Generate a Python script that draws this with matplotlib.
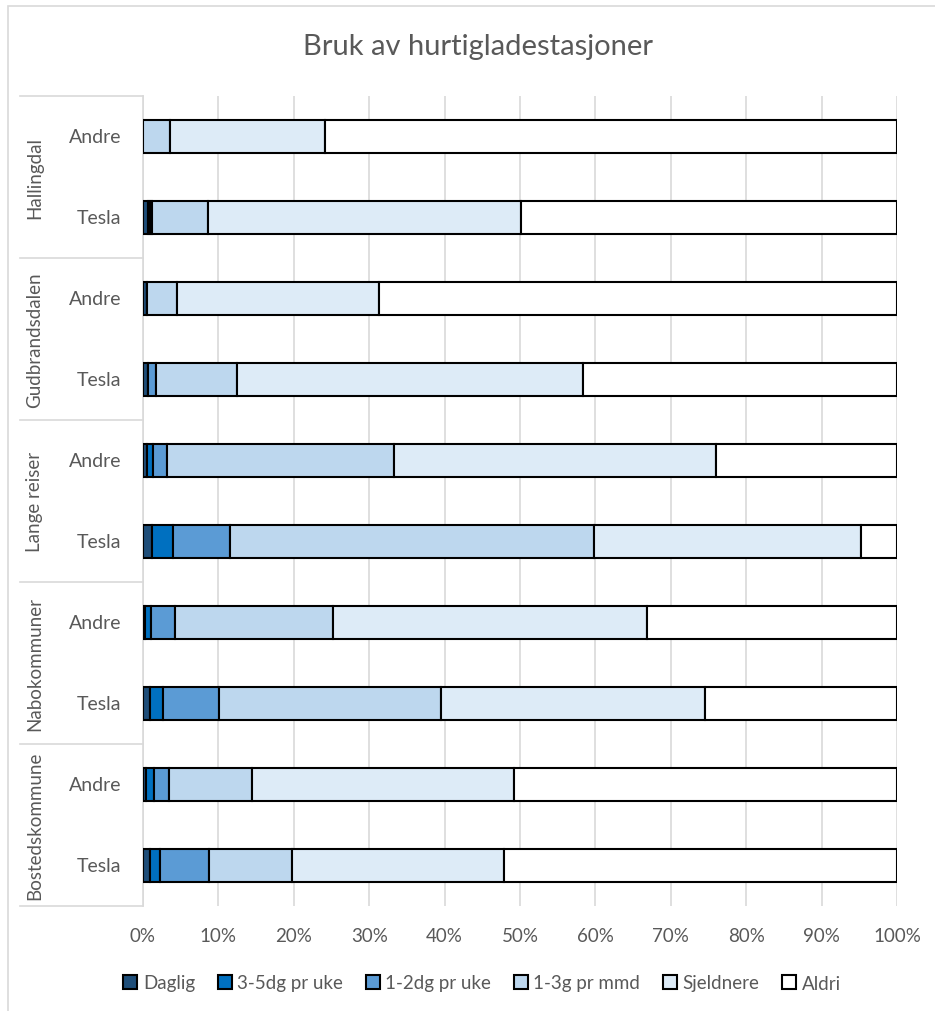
import matplotlib.pyplot as plt
import numpy as np
from matplotlib.patches import Rectangle, Patch
from matplotlib.transforms import blended_transform_factory

plt.rcParams['font.family'] = ['Lato', 'DejaVu Sans']

# Data (percent per bar, top to bottom)
groups = ['Hallingdal', 'Gudbrandsdalen', 'Lange reiser', 'Nabokommuner', 'Bostedskommune']
subcats = ['Andre', 'Tesla']
series = ['Daglig', '3-5dg pr uke', '1-2dg pr uke', '1-3g pr mmd', 'Sjeldnere', 'Aldri']

daglig = [0.0, 0.6, 0.5, 0.7, 0.5, 1.2, 0.3, 0.9, 0.4, 0.9]
dg35 = [0.0, 0.3, 0.0, 0.0, 0.8, 2.8, 0.7, 1.8, 1.1, 1.4]
dg12 = [0.0, 0.3, 0.0, 1.0, 1.9, 7.6, 3.2, 7.4, 1.9, 6.5]
g13_mmd = [3.6, 7.4, 4.0, 10.8, 30.1, 48.2, 21.0, 29.4, 11.1, 11.0]
sjeldnere = [20.5, 41.5, 26.8, 45.9, 42.7, 35.4, 41.6, 35.0, 34.7, 28.1]
aldri = [100 - sum(v) for v in zip(daglig, dg35, dg12, g13_mmd, sjeldnere)]

colors = ['#1F4E79', '#0070C0', '#5B9BD5', '#BDD7EE', '#DDEBF7', '#FFFFFF']
text_col = '#595959'
grid_col = '#D9D9D9'

W, H = 935, 1012
fig = plt.figure(figsize=(W / 100, H / 100), dpi=100)
ax = fig.add_axes([143 / W, (H - 907) / H, 754 / W, 810 / H])

# outer chart border (only top/left visible in the crop)
fig.patches.append(Rectangle((8 / W, -0.1), 1.2, (H - 7) / H + 0.1, transform=fig.transFigure,
                             fill=False, edgecolor=grid_col, linewidth=1.2))

y = np.arange(len(daglig))
left = np.zeros(len(daglig))
for name, vals, c in zip(series, [daglig, dg35, dg12, g13_mmd, sjeldnere, aldri], colors):
    ax.barh(y, vals, left=left, height=0.41, color=c, edgecolor='black', linewidth=1.5,
            label=name, zorder=3)
    left += np.array(vals)

ax.set_xlim(0, 100)
ax.set_ylim(9.5, -0.5)
ax.set_xticks(np.arange(0, 101, 10))
ax.set_xticklabels([f'{t}%' for t in range(0, 101, 10)], fontsize=13.5, color=text_col)
ax.tick_params(axis='x', length=0, pad=15)
ax.set_yticks([])
ax.grid(axis='x', color=grid_col, linewidth=1.2, zorder=0)
for s in ['top', 'right', 'bottom']:
    ax.spines[s].set_visible(False)
ax.spines['left'].set_color(grid_col)
ax.spines['left'].set_linewidth(1.2)

# multi-level category axis
tr = blended_transform_factory(ax.transAxes, ax.transData)
x0 = (20 - 143) / 754
for b in np.arange(-0.5, 10, 2):
    ax.plot([x0, 0], [b, b], color=grid_col, linewidth=1.2, transform=tr, clip_on=False)
for i, g in enumerate(groups):
    ax.text((35 - 143) / 754, 2 * i + 0.5, g, rotation=90, ha='center', va='center',
            fontsize=13.5, color=text_col, transform=tr)
    for j, s in enumerate(subcats):
        ax.text(-0.029, 2 * i + j, s, ha='right', va='center', fontsize=14,
                color=text_col, transform=tr)

fig.text(478 / W, 1 - 47 / H, 'Bruk av hurtigladestasjoner', ha='center', va='center',
         fontsize=21, color=text_col)

handles = [Patch(facecolor=c, edgecolor='black', linewidth=1.5) for c in colors]
fig.legend(handles, series, loc='center', bbox_to_anchor=(482 / W, 1 - 984 / H), ncol=6,
           frameon=False, fontsize=13.5, labelcolor=text_col, handlelength=0.75,
           handleheight=0.75, handletextpad=0.3, columnspacing=1.2)

fig.savefig('out.png', dpi=100)
